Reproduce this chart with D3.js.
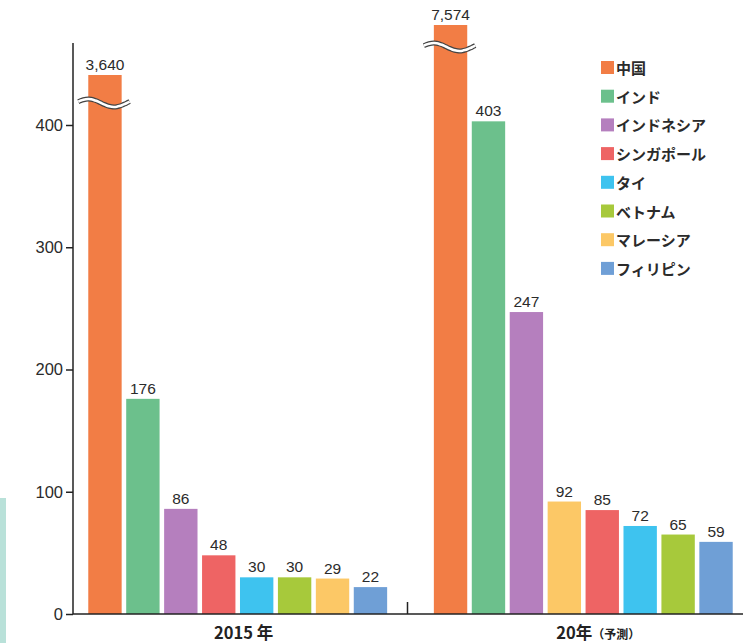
<!DOCTYPE html>
<html><head><meta charset="utf-8">
<script src="https://cdn.jsdelivr.net/npm/d3@7"></script>
<style>
html,body{margin:0;padding:0;background:#fff;}
svg{display:block;}
</style>
</head><body>
<svg id="chart" width="743" height="643"></svg>
<script>
// ---- data ----
const countries = ["中国","インド","インドネシア","シンガポール","タイ","ベトナム","マレーシア","フィリピン"];
const colors    = ["#f27d45","#6cc08c","#b57fbe","#ee6464","#3ec3ef","#a7c93b","#fcc866","#6f9fd6"];
const years     = ["2015","20"];
const yearLabels = ["2015 年","20年"];
const yearNotes  = ["","（予測）"];
const values2015 = [3640,176,86,48,30,30,29,22];
const values2020 = [7574,403,247,85,72,65,92,59];
const yTicks = [0,100,200,300,400];

// ---- layout ----
const svg = d3.select("#chart");
const baseY = 614, axisX = 73, axisTop = 43;
const font = "'Liberation Sans', Arial, sans-serif";
const jfont = "'Noto Sans CJK JP', sans-serif";

// broken axis: linear up to breakAt, then compressed above the break
const breakAt = 420;
const yLin = d3.scaleLinear().domain([0, 400]).range([baseY, 125]);
const y = d3.scaleLinear().domain([0, breakAt, 3640, 7574]).range([baseY, yLin(breakAt), 75, 25]);

const x0 = d3.scaleBand().domain(years).range([86, 735]).paddingInner(0.122);
const x1 = d3.scaleBand().domain(d3.range(countries.length)).range([0, x0.bandwidth()])
  .paddingInner(0.12).paddingOuter(0.06);

// decorative strip
svg.append("rect").attr("x",0).attr("y",498).attr("width",6).attr("height",145).attr("fill","#b9e1d9");

const seriesByYear = [values2015, values2020];

years.forEach((yr, gi) => {
  const vals = seriesByYear[gi];
  const order = d3.range(countries.length).sort((a,b) => d3.descending(vals[a], vals[b]) || a - b);
  const g = svg.append("g").attr("transform", `translate(${x0(yr)},0)`);
  order.forEach((ci, pos) => {
    const v = vals[ci];
    const bx = x1(pos), bw = x1.bandwidth();
    const top = y(v);
    g.append("rect").attr("x", bx).attr("y", top).attr("width", bw).attr("height", baseY - top)
      .attr("fill", colors[ci]);
    g.append("text").attr("x", bx + bw/2).attr("y", top - 5).attr("text-anchor","middle")
      .attr("font-family", font).attr("font-size", 15.5).attr("fill","#2b2b2b")
      .text(d3.format(",")(v));
    if (v > breakAt) {
      // break mark
      const by = top + (gi === 0 ? 28 : 22);
      const x_start = bx - 10, w = bw + 18;
      const pts = d3.range(0, 1.0001, 0.05).map(t => [x_start + t*w, by - 4*Math.sin(t*2*Math.PI + 0.35)]);
      const line = d3.line().curve(d3.curveBasis);
      g.append("path").attr("d", line(pts)).attr("fill","none").attr("stroke","#444").attr("stroke-width",5);
      g.append("path").attr("d", line(pts)).attr("fill","none").attr("stroke","#fff").attr("stroke-width",2.6);
    }
  });
  // x label
  const cx = x0(yr) + x0.bandwidth()/2 + (gi === 0 ? 6 : 15);
  const t = svg.append("text").attr("x", cx).attr("y", 639).attr("text-anchor","middle")
    .attr("font-family", jfont).attr("font-weight","bold").attr("font-size", 16.5).attr("fill","#222");
  t.append("tspan").text(yearLabels[gi]);
  if (yearNotes[gi]) t.append("tspan").attr("font-size", 12).text(yearNotes[gi]);
});

// y axis
svg.append("line").attr("x1",axisX).attr("x2",axisX).attr("y1",axisTop).attr("y2",baseY)
  .attr("stroke","#222").attr("stroke-width",1.5);
const yAxis = d3.axisLeft(y).tickValues(yTicks).tickSize(7).tickPadding(3).tickSizeOuter(0);
const ag = svg.append("g").attr("transform",`translate(${axisX},0)`).call(yAxis);
ag.select(".domain").remove();
ag.selectAll(".tick line").attr("stroke","#222").attr("stroke-width",1.5);
ag.selectAll(".tick text").attr("font-family", font).attr("font-size", 16.5).attr("fill","#2b2b2b");

// baseline
svg.append("line").attr("x1",axisX).attr("x2",743).attr("y1",baseY).attr("y2",baseY)
  .attr("stroke","#222").attr("stroke-width",1.5);
// group divider tick
const divX = (x0("2015") + x0.bandwidth() + x0("20"))/2 - 3;
svg.append("line").attr("x1",divX).attr("x2",divX).attr("y1",baseY-12).attr("y2",baseY)
  .attr("stroke","#222").attr("stroke-width",1.5);

// legend
const lg = svg.append("g");
countries.forEach((c, i) => {
  const ly = 61 + i*28.7;
  lg.append("rect").attr("x",601).attr("y",ly).attr("width",13).attr("height",13).attr("fill",colors[i]);
  lg.append("text").attr("x",616).attr("y",ly+6.5).attr("dominant-baseline","central")
    .attr("font-family", jfont).attr("font-weight","bold").attr("font-size",15).attr("fill","#2b2b2b").text(c);
});
</script>
</body></html>
